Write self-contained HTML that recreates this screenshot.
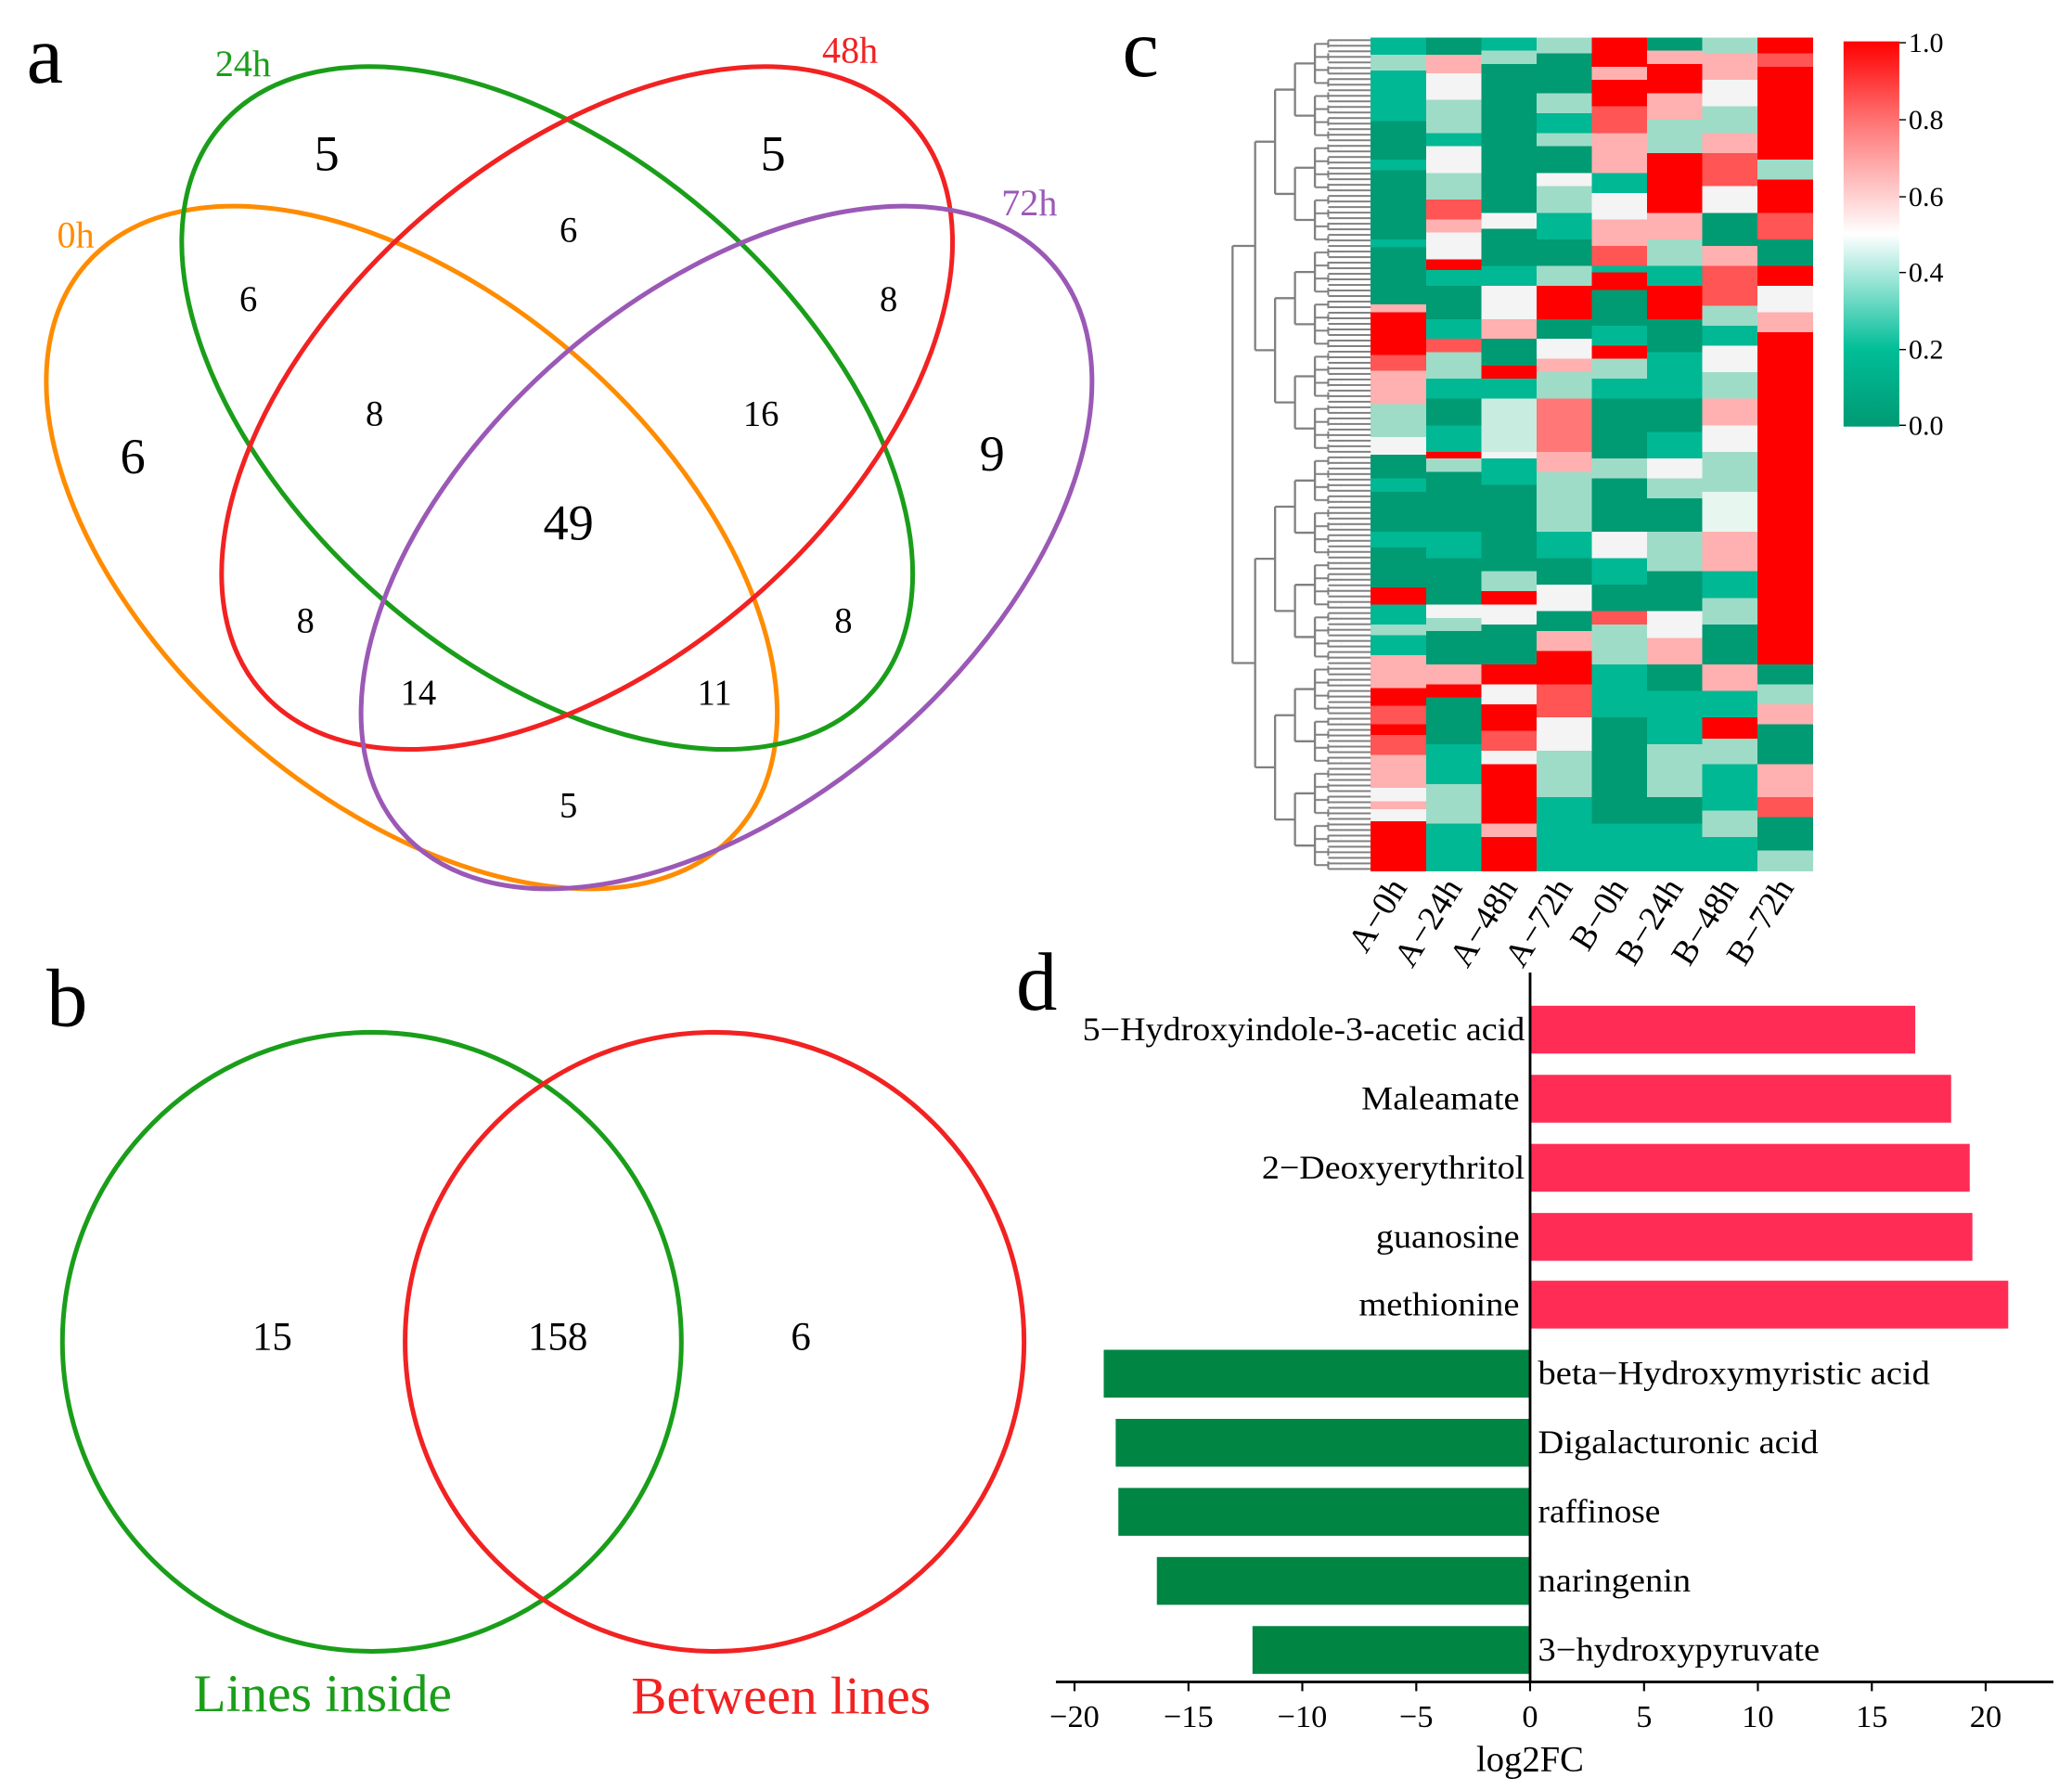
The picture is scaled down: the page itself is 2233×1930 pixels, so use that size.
<!DOCTYPE html>
<html><head><meta charset="utf-8"><style>
html,body{margin:0;padding:0;background:#fff}
svg{display:block}
text{font-family:"Liberation Serif",serif}
</style></head><body>
<svg width="2233" height="1930" viewBox="0 0 1560 1348" xmlns="http://www.w3.org/2000/svg">
<defs>
<linearGradient id="cb" x1="0" y1="1" x2="0" y2="0">
<stop offset="0" stop-color="#009A73"/><stop offset="0.2" stop-color="#00BE98"/><stop offset="0.5" stop-color="#FFFFFF"/><stop offset="0.8" stop-color="#FF7070"/><stop offset="1" stop-color="#FF0000"/>
</linearGradient>
<pattern id="leaf" x="1000" y="28" width="40" height="4.1875" patternUnits="userSpaceOnUse">
<line x1="0" y1="2.1" x2="40" y2="2.1" stroke="#808080" stroke-width="1.4"/>
</pattern>
<pattern id="quad" x="990" y="28" width="20" height="9.8125" patternUnits="userSpaceOnUse">
<line x1="10" y1="2.1" x2="10" y2="7.7" stroke="#808080" stroke-width="1.4"/>
<line x1="0" y1="4.9" x2="10" y2="4.9" stroke="#808080" stroke-width="1.4"/>
</pattern>
</defs>
<rect width="1560" height="1348" fill="#fff"/>
<!-- panel a -->
<text x="20" y="62" font-size="62">a</text>
<g fill="none" stroke-width="3.5">
<ellipse cx="310" cy="412" rx="325" ry="190" transform="rotate(41 310 412)" stroke="#FF8C00"/>
<ellipse cx="412" cy="307" rx="325" ry="190" transform="rotate(41 412 307)" stroke="#1A9E1A"/>
<ellipse cx="442" cy="307" rx="325" ry="190" transform="rotate(-41 442 307)" stroke="#F22222"/>
<ellipse cx="547" cy="412" rx="325" ry="190" transform="rotate(-41 547 412)" stroke="#9B59B6"/>
</g>
<g font-size="28" text-anchor="middle">
<text x="183" y="57" fill="#1A9E1A">24h</text>
<text x="640" y="47" fill="#F22222">48h</text>
<text x="57" y="186" fill="#FF8C00">0h</text>
<text x="775" y="162" fill="#9B59B6">72h</text>
</g>
<g text-anchor="middle" font-size="38">
<text x="246" y="128">5</text><text x="582" y="128">5</text>
<text x="100" y="356">6</text><text x="747" y="354">9</text>
<text x="428" y="406">49</text>
</g>
<g text-anchor="middle" font-size="27">
<text x="428" y="182">6</text><text x="187" y="234">6</text><text x="669" y="234">8</text>
<text x="282" y="320">8</text><text x="573" y="320">16</text>
<text x="230" y="476">8</text><text x="635" y="476">8</text>
<text x="315" y="530">14</text><text x="538" y="530">11</text>
<text x="428" y="615">5</text>
</g>
<!-- panel b -->
<text x="35" y="772" font-size="62">b</text>
<circle cx="280" cy="1010" r="233" fill="none" stroke="#1A9E1A" stroke-width="3.5"/>
<circle cx="538" cy="1010" r="233" fill="none" stroke="#F22222" stroke-width="3.5"/>
<g font-size="30" text-anchor="middle">
<text x="205" y="1016">15</text><text x="420" y="1016">158</text><text x="603" y="1016">6</text>
</g>
<text x="243" y="1288" font-size="40" text-anchor="middle" fill="#1A9E1A">Lines inside</text>
<text x="588" y="1290" font-size="40" text-anchor="middle" fill="#F22222">Between lines</text>
<!-- panel c -->
<text x="845" y="57" font-size="62">c</text>
<g shape-rendering="crispEdges">
<g transform="translate(1032,0)">
<rect y="28" width="42" height="13" fill="#00B894"/><rect y="41" width="42" height="12" fill="#9FDCC8"/><rect y="53" width="42" height="38" fill="#00B894"/><rect y="91" width="42" height="138" fill="#009A73"/><rect y="120" width="42" height="8" fill="#00B894"/><rect y="180" width="42" height="6" fill="#00B894"/>
<rect y="229" width="42" height="6" fill="#FFB0B0"/><rect y="235" width="42" height="32" fill="#FF0000"/><rect y="267" width="42" height="12" fill="#FF5555"/><rect y="279" width="42" height="25" fill="#FFB0B0"/><rect y="304" width="42" height="25" fill="#9FDCC8"/><rect y="329" width="42" height="13" fill="#F4F4F4"/>
<rect y="342" width="42" height="100" fill="#009A73"/><rect y="360" width="42" height="10" fill="#00B894"/><rect y="400" width="42" height="12" fill="#00B894"/><rect y="442" width="42" height="13" fill="#FF0000"/><rect y="455" width="42" height="38" fill="#00B894"/><rect y="470" width="42" height="8" fill="#9FDCC8"/>
<rect y="493" width="42" height="25" fill="#FFB0B0"/><rect y="518" width="42" height="13" fill="#FF0000"/><rect y="531" width="42" height="37" fill="#FF5555"/><rect y="545" width="42" height="8" fill="#FF0000"/><rect y="568" width="42" height="25" fill="#FFB0B0"/><rect y="593" width="42" height="25" fill="#F4F4F4"/><rect y="603" width="42" height="6" fill="#FFB0B0"/><rect y="618" width="42" height="38" fill="#FF0000"/>
</g>
<g transform="translate(1073.6,0)">
<rect y="28" width="42" height="13" fill="#009A73"/><rect y="41" width="42" height="14" fill="#FFB0B0"/><rect y="55" width="42" height="20" fill="#F4F4F4"/><rect y="75" width="42" height="25" fill="#9FDCC8"/><rect y="100" width="42" height="10" fill="#00B894"/><rect y="110" width="42" height="20" fill="#F4F4F4"/><rect y="130" width="42" height="20" fill="#9FDCC8"/><rect y="150" width="42" height="15" fill="#FF5555"/><rect y="165" width="42" height="10" fill="#FFB0B0"/><rect y="175" width="42" height="20" fill="#F4F4F4"/><rect y="195" width="42" height="8" fill="#FF0000"/><rect y="203" width="42" height="12" fill="#00B894"/><rect y="215" width="42" height="25" fill="#009A73"/><rect y="240" width="42" height="15" fill="#00B894"/><rect y="255" width="42" height="10" fill="#FF5555"/><rect y="265" width="42" height="20" fill="#9FDCC8"/><rect y="285" width="42" height="15" fill="#00B894"/><rect y="300" width="42" height="20" fill="#009A73"/><rect y="320" width="42" height="20" fill="#00B894"/><rect y="340" width="42" height="5" fill="#FF0000"/><rect y="345" width="42" height="10" fill="#9FDCC8"/><rect y="355" width="42" height="45" fill="#009A73"/><rect y="400" width="42" height="20" fill="#00B894"/><rect y="420" width="42" height="35" fill="#009A73"/><rect y="455" width="42" height="10" fill="#F4F4F4"/><rect y="465" width="42" height="10" fill="#9FDCC8"/><rect y="475" width="42" height="25" fill="#009A73"/><rect y="500" width="42" height="15" fill="#FFB0B0"/><rect y="515" width="42" height="10" fill="#FF0000"/><rect y="525" width="42" height="35" fill="#009A73"/><rect y="560" width="42" height="30" fill="#00B894"/><rect y="590" width="42" height="30" fill="#9FDCC8"/><rect y="620" width="42" height="36" fill="#00B894"/>
</g>
<g transform="translate(1115.2,0)">
<rect y="28" width="42" height="10" fill="#00B894"/><rect y="38" width="42" height="10" fill="#9FDCC8"/><rect y="48" width="42" height="112" fill="#009A73"/><rect y="160" width="42" height="12" fill="#F4F4F4"/><rect y="172" width="42" height="28" fill="#009A73"/><rect y="200" width="42" height="15" fill="#00B894"/><rect y="215" width="42" height="25" fill="#F4F4F4"/><rect y="240" width="42" height="15" fill="#FFB0B0"/><rect y="255" width="42" height="20" fill="#009A73"/><rect y="275" width="42" height="10" fill="#FF0000"/><rect y="285" width="42" height="15" fill="#00B894"/><rect y="300" width="42" height="40" fill="#C8ECE0"/><rect y="340" width="42" height="5" fill="#F4F4F4"/><rect y="345" width="42" height="20" fill="#00B894"/><rect y="365" width="42" height="65" fill="#009A73"/><rect y="430" width="42" height="15" fill="#9FDCC8"/><rect y="445" width="42" height="10" fill="#FF0000"/><rect y="455" width="42" height="15" fill="#F4F4F4"/><rect y="470" width="42" height="30" fill="#009A73"/><rect y="500" width="42" height="15" fill="#FF0000"/><rect y="515" width="42" height="15" fill="#F4F4F4"/><rect y="530" width="42" height="20" fill="#FF0000"/><rect y="550" width="42" height="15" fill="#FF5555"/><rect y="565" width="42" height="10" fill="#F4F4F4"/><rect y="575" width="42" height="45" fill="#FF0000"/><rect y="620" width="42" height="10" fill="#FFB0B0"/><rect y="630" width="42" height="26" fill="#FF0000"/>
</g>
<g transform="translate(1156.8,0)">
<rect y="28" width="42" height="12" fill="#9FDCC8"/><rect y="40" width="42" height="30" fill="#009A73"/><rect y="70" width="42" height="15" fill="#9FDCC8"/><rect y="85" width="42" height="15" fill="#00B894"/><rect y="100" width="42" height="10" fill="#9FDCC8"/><rect y="110" width="42" height="20" fill="#009A73"/><rect y="130" width="42" height="10" fill="#F4F4F4"/><rect y="140" width="42" height="20" fill="#9FDCC8"/><rect y="160" width="42" height="20" fill="#00B894"/><rect y="180" width="42" height="20" fill="#009A73"/><rect y="200" width="42" height="15" fill="#9FDCC8"/><rect y="215" width="42" height="25" fill="#FF0000"/><rect y="240" width="42" height="15" fill="#009A73"/><rect y="255" width="42" height="15" fill="#F4F4F4"/><rect y="270" width="42" height="10" fill="#FFB0B0"/><rect y="280" width="42" height="20" fill="#9FDCC8"/><rect y="300" width="42" height="40" fill="#FF7777"/><rect y="340" width="42" height="15" fill="#FFB0B0"/><rect y="355" width="42" height="45" fill="#9FDCC8"/><rect y="400" width="42" height="20" fill="#00B894"/><rect y="420" width="42" height="20" fill="#009A73"/><rect y="440" width="42" height="20" fill="#F4F4F4"/><rect y="460" width="42" height="15" fill="#009A73"/><rect y="475" width="42" height="15" fill="#FFB0B0"/><rect y="490" width="42" height="25" fill="#FF0000"/><rect y="515" width="42" height="25" fill="#FF5555"/><rect y="540" width="42" height="25" fill="#F4F4F4"/><rect y="565" width="42" height="35" fill="#9FDCC8"/><rect y="600" width="42" height="56" fill="#00B894"/>
</g>
<g transform="translate(1198.4,0)">
<rect y="28" width="42" height="22" fill="#FF0000"/><rect y="50" width="42" height="10" fill="#FFB0B0"/><rect y="60" width="42" height="20" fill="#FF0000"/><rect y="80" width="42" height="20" fill="#FF5555"/><rect y="100" width="42" height="30" fill="#FFB0B0"/><rect y="130" width="42" height="15" fill="#00B894"/><rect y="145" width="42" height="20" fill="#F4F4F4"/><rect y="165" width="42" height="20" fill="#FFB0B0"/><rect y="185" width="42" height="15" fill="#FF5555"/><rect y="200" width="42" height="5" fill="#00B894"/><rect y="205" width="42" height="13" fill="#FF0000"/><rect y="218" width="42" height="27" fill="#009A73"/><rect y="245" width="42" height="15" fill="#00B894"/><rect y="260" width="42" height="10" fill="#FF0000"/><rect y="270" width="42" height="15" fill="#9FDCC8"/><rect y="285" width="42" height="15" fill="#00B894"/><rect y="300" width="42" height="45" fill="#009A73"/><rect y="345" width="42" height="15" fill="#9FDCC8"/><rect y="360" width="42" height="40" fill="#009A73"/><rect y="400" width="42" height="20" fill="#F4F4F4"/><rect y="420" width="42" height="20" fill="#00B894"/><rect y="440" width="42" height="20" fill="#009A73"/><rect y="460" width="42" height="10" fill="#FF5555"/><rect y="470" width="42" height="30" fill="#9FDCC8"/><rect y="500" width="42" height="40" fill="#00B894"/><rect y="540" width="42" height="80" fill="#009A73"/><rect y="620" width="42" height="36" fill="#00B894"/>
</g>
<g transform="translate(1240,0)">
<rect y="28" width="42" height="10" fill="#009A73"/><rect y="38" width="42" height="10" fill="#FFB0B0"/><rect y="48" width="42" height="22" fill="#FF0000"/><rect y="70" width="42" height="20" fill="#FFB0B0"/><rect y="90" width="42" height="25" fill="#9FDCC8"/><rect y="115" width="42" height="45" fill="#FF0000"/><rect y="160" width="42" height="20" fill="#FFB0B0"/><rect y="180" width="42" height="20" fill="#9FDCC8"/><rect y="200" width="42" height="15" fill="#00B894"/><rect y="215" width="42" height="25" fill="#FF0000"/><rect y="240" width="42" height="25" fill="#009A73"/><rect y="265" width="42" height="35" fill="#00B894"/><rect y="300" width="42" height="25" fill="#009A73"/><rect y="325" width="42" height="20" fill="#00B894"/><rect y="345" width="42" height="15" fill="#F4F4F4"/><rect y="360" width="42" height="15" fill="#9FDCC8"/><rect y="375" width="42" height="25" fill="#009A73"/><rect y="400" width="42" height="30" fill="#9FDCC8"/><rect y="430" width="42" height="30" fill="#009A73"/><rect y="460" width="42" height="20" fill="#F4F4F4"/><rect y="480" width="42" height="20" fill="#FFB0B0"/><rect y="500" width="42" height="20" fill="#009A73"/><rect y="520" width="42" height="40" fill="#00B894"/><rect y="560" width="42" height="40" fill="#9FDCC8"/><rect y="600" width="42" height="20" fill="#009A73"/><rect y="620" width="42" height="36" fill="#00B894"/>
</g>
<g transform="translate(1281.6,0)">
<rect y="28" width="42" height="12" fill="#9FDCC8"/><rect y="40" width="42" height="20" fill="#FFB0B0"/><rect y="60" width="42" height="20" fill="#F4F4F4"/><rect y="80" width="42" height="20" fill="#9FDCC8"/><rect y="100" width="42" height="15" fill="#FFB0B0"/><rect y="115" width="42" height="25" fill="#FF5555"/><rect y="140" width="42" height="20" fill="#F4F4F4"/><rect y="160" width="42" height="25" fill="#009A73"/><rect y="185" width="42" height="15" fill="#FFB0B0"/><rect y="200" width="42" height="30" fill="#FF5555"/><rect y="230" width="42" height="15" fill="#9FDCC8"/><rect y="245" width="42" height="15" fill="#00B894"/><rect y="260" width="42" height="20" fill="#F4F4F4"/><rect y="280" width="42" height="20" fill="#9FDCC8"/><rect y="300" width="42" height="20" fill="#FFB0B0"/><rect y="320" width="42" height="20" fill="#F4F4F4"/><rect y="340" width="42" height="30" fill="#9FDCC8"/><rect y="370" width="42" height="30" fill="#E8F6F0"/><rect y="400" width="42" height="30" fill="#FFB0B0"/><rect y="430" width="42" height="20" fill="#00B894"/><rect y="450" width="42" height="20" fill="#9FDCC8"/><rect y="470" width="42" height="30" fill="#009A73"/><rect y="500" width="42" height="20" fill="#FFB0B0"/><rect y="520" width="42" height="20" fill="#00B894"/><rect y="540" width="42" height="16" fill="#FF0000"/><rect y="556" width="42" height="19" fill="#9FDCC8"/><rect y="575" width="42" height="35" fill="#00B894"/><rect y="610" width="42" height="20" fill="#9FDCC8"/><rect y="630" width="42" height="26" fill="#00B894"/>
</g>
<g transform="translate(1323.2,0)">
<rect y="28" width="42" height="12" fill="#FF0000"/><rect y="40" width="42" height="10" fill="#FF5555"/><rect y="50" width="42" height="70" fill="#FF0000"/><rect y="120" width="42" height="15" fill="#9FDCC8"/><rect y="135" width="42" height="25" fill="#FF0000"/><rect y="160" width="42" height="20" fill="#FF5555"/><rect y="180" width="42" height="20" fill="#009A73"/><rect y="200" width="42" height="15" fill="#FF0000"/><rect y="215" width="42" height="20" fill="#F4F4F4"/><rect y="235" width="42" height="15" fill="#FFB0B0"/><rect y="250" width="42" height="250" fill="#FF0000"/><rect y="500" width="42" height="15" fill="#009A73"/><rect y="515" width="42" height="15" fill="#9FDCC8"/><rect y="530" width="42" height="15" fill="#FFB0B0"/><rect y="545" width="42" height="30" fill="#009A73"/><rect y="575" width="42" height="25" fill="#FFB0B0"/><rect y="600" width="42" height="15" fill="#FF5555"/><rect y="615" width="42" height="25" fill="#009A73"/><rect y="640" width="42" height="16" fill="#9FDCC8"/>
</g>
</g>
<rect x="1000" y="28" width="32" height="628" fill="url(#leaf)"/>
<rect x="990" y="28" width="20" height="628" fill="url(#quad)"/>
<g stroke="#808080" stroke-width="1.6" fill="none">
<path d="M975 47.6H990M990 32.9V62.3 M975 86.9H990M990 72.2V101.6 M975 126.1H990M990 111.4V140.8 M975 165.4H990M990 150.7V180.1 M975 204.6H990M990 189.9V219.3 M975 243.9H990M990 229.2V258.6 M975 283.1H990M990 268.4V297.8 M975 322.4H990M990 307.7V337.1 M975 361.6H990M990 346.9V376.3 M975 400.9H990M990 386.2V415.6 M975 440.1H990M990 425.4V454.8 M975 479.4H990M990 464.7V494.1 M975 518.6H990M990 503.9V533.3 M975 557.9H990M990 543.2V572.6 M975 597.1H990M990 582.4V611.8 M975 636.4H990M990 621.7V651.1"/>
<path d="M975 47.6V86.9 M975 126.1V165.4 M975 204.6V243.9 M975 283.1V322.4 M975 361.6V400.9 M975 440.1V479.4 M975 518.6V557.9 M975 597.1V636.4"/>
<path d="M960 67.3H975 M960 145.8H975 M960 224.3H975 M960 302.8H975 M960 381.3H975 M960 459.8H975 M960 538.3H975 M960 616.8H975"/>
<path d="M960 67.3V145.8 M960 224.3V302.8 M960 381.3V459.8 M960 538.3V616.8 M945 106.5H960 M945 263.5H960 M945 420.5H960 M945 577.5H960"/>
<path d="M945 106.5V263.5 M945 420.5V577.5 M928 185H945 M928 499H945 M928 185V499"/>
</g>
<rect x="1388" y="31" width="42" height="290" fill="url(#cb)"/>
<g font-size="21" font-family="Liberation Sans">
<g stroke="#000" stroke-width="1"><line x1="1430" y1="32" x2="1435" y2="32"/><line x1="1430" y1="90" x2="1435" y2="90"/><line x1="1430" y1="148" x2="1435" y2="148"/><line x1="1430" y1="205" x2="1435" y2="205"/><line x1="1430" y1="263" x2="1435" y2="263"/><line x1="1430" y1="320" x2="1435" y2="320"/></g>
<text x="1437" y="39">1.0</text><text x="1437" y="97">0.8</text><text x="1437" y="155">0.6</text><text x="1437" y="212">0.4</text><text x="1437" y="270">0.2</text><text x="1437" y="327">0.0</text>
</g>
<g font-size="26" text-anchor="end">
<text x="1060" y="668" transform="rotate(-58 1060 668)">A−0h</text>
<text x="1101.6" y="668" transform="rotate(-58 1101.6 668)">A−24h</text>
<text x="1143.2" y="668" transform="rotate(-58 1143.2 668)">A−48h</text>
<text x="1184.8" y="668" transform="rotate(-58 1184.8 668)">A−72h</text>
<text x="1226.4" y="668" transform="rotate(-58 1226.4 668)">B−0h</text>
<text x="1268" y="668" transform="rotate(-58 1268 668)">B−24h</text>
<text x="1309.6" y="668" transform="rotate(-58 1309.6 668)">B−48h</text>
<text x="1351.2" y="668" transform="rotate(-58 1351.2 668)">B−72h</text>
</g>
<!-- panel d -->
<text x="765" y="760" font-size="62">d</text>
<g>
<rect x="1152" y="757" width="290" height="36" fill="#FF2D55"/>
<rect x="1152" y="809" width="317" height="36" fill="#FF2D55"/>
<rect x="1152" y="861" width="331" height="36" fill="#FF2D55"/>
<rect x="1152" y="913" width="333" height="36" fill="#FF2D55"/>
<rect x="1152" y="964" width="360" height="36" fill="#FF2D55"/>
<rect x="831" y="1016" width="321" height="36" fill="#008542"/>
<rect x="840" y="1068" width="312" height="36" fill="#008542"/>
<rect x="842" y="1120" width="310" height="36" fill="#008542"/>
<rect x="871" y="1172" width="281" height="36" fill="#008542"/>
<rect x="943" y="1224" width="209" height="36" fill="#008542"/>
</g>
<g font-size="25" lengthAdjust="spacingAndGlyphs">
<text x="815" y="783" textLength="333" lengthAdjust="spacingAndGlyphs">5−Hydroxyindole-3-acetic acid</text>
<text x="1025" y="835" textLength="119" lengthAdjust="spacingAndGlyphs">Maleamate</text>
<text x="950" y="887" textLength="198" lengthAdjust="spacingAndGlyphs">2−Deoxyerythritol</text>
<text x="1036" y="939" textLength="108" lengthAdjust="spacingAndGlyphs">guanosine</text>
<text x="1023" y="990" textLength="121" lengthAdjust="spacingAndGlyphs">methionine</text>
<text x="1158" y="1042" textLength="295" lengthAdjust="spacingAndGlyphs">beta−Hydroxymyristic acid</text>
<text x="1158" y="1094" textLength="211" lengthAdjust="spacingAndGlyphs">Digalacturonic acid</text>
<text x="1158" y="1146" textLength="92" lengthAdjust="spacingAndGlyphs">raffinose</text>
<text x="1158" y="1198" textLength="115" lengthAdjust="spacingAndGlyphs">naringenin</text>
<text x="1158" y="1250" textLength="212" lengthAdjust="spacingAndGlyphs">3−hydroxypyruvate</text>
</g>
<line x1="1152" y1="732" x2="1152" y2="1266" stroke="#000" stroke-width="2"/>
<line x1="795" y1="1266" x2="1546" y2="1266" stroke="#000" stroke-width="2"/>
<g stroke="#000" stroke-width="1.5">
<line x1="809" y1="1266" x2="809" y2="1273"/><line x1="894.8" y1="1266" x2="894.8" y2="1273"/><line x1="980.5" y1="1266" x2="980.5" y2="1273"/><line x1="1066.3" y1="1266" x2="1066.3" y2="1273"/><line x1="1152" y1="1266" x2="1152" y2="1273"/><line x1="1237.8" y1="1266" x2="1237.8" y2="1273"/><line x1="1323.5" y1="1266" x2="1323.5" y2="1273"/><line x1="1409.3" y1="1266" x2="1409.3" y2="1273"/><line x1="1495" y1="1266" x2="1495" y2="1273"/>
</g>
<g font-size="24" text-anchor="middle">
<text x="809" y="1300">−20</text><text x="894.8" y="1300">−15</text><text x="980.5" y="1300">−10</text><text x="1066.3" y="1300">−5</text><text x="1152" y="1300">0</text><text x="1237.8" y="1300">5</text><text x="1323.5" y="1300">10</text><text x="1409.3" y="1300">15</text><text x="1495" y="1300">20</text>
</g>
<text x="1152" y="1333" font-size="27" text-anchor="middle">log2FC</text>
</svg>
</body></html>
